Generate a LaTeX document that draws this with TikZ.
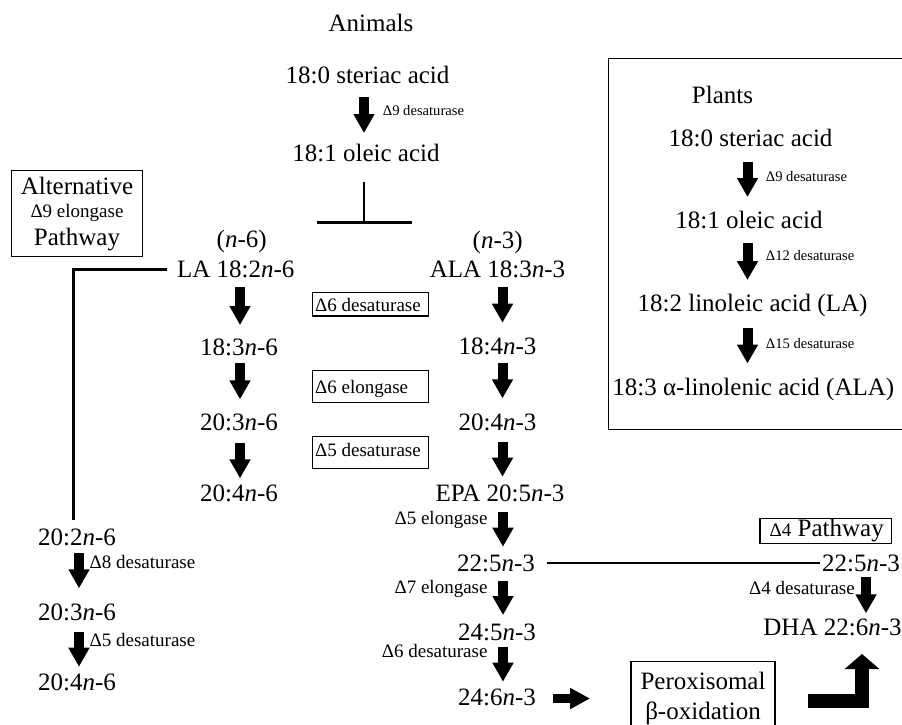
\documentclass[tikz,border=0pt]{standalone}
\usepackage{fontspec}
\setmainfont{Liberation Serif}
\usetikzlibrary{arrows.meta}
\begin{document}
\begin{tikzpicture}[x=1pt,y=-1pt,
 big/.style={font=\fontsize{25}{30}\selectfont, inner sep=0pt, anchor=base},
 mid/.style={font=\fontsize{19}{23}\selectfont, inner sep=0pt},
 sml/.style={font=\fontsize{14.6}{17}\selectfont, inner sep=0pt},
 fat/.style={line width=10pt, -{Triangle[width=20pt,length=19pt]}},
 conn/.style={line width=2.8pt, line join=miter},
 thinconn/.style={line width=2pt},
 frame/.style={draw, line width=1.2pt},
]
\useasboundingbox[fill=white] (0,0) rectangle (902,724);

% ---------- frames ----------
\draw[frame] (608.3,58.3) rectangle (902.5,429.3);
\draw[frame] (11.7,170.7) rectangle (142.3,256.7);
\draw[frame] (312.7,292.7) rectangle (428.3,316);
\draw[frame] (312.7,370.7) rectangle (428.3,402.7);
\draw[frame] (312.7,436.7) rectangle (428.3,468.3);
\draw[frame] (760,518.3) rectangle (891.7,543.3);
\draw[frame] (631,661.7) rectangle (775,730);

% ---------- Animals ----------
\node[big] (animals) at (371,31) {Animals};
\node[big] (ast) at (367.5,83) {18:0 steriac acid};
\node[big] (aole) at (366,161) {18:1 oleic acid};
\node[sml, anchor=base west] (ad9) at (382.7,115) {Δ9 desaturase};

% alternative box text
\node[big] (alt1) at (77,194) {Alternative};
\node[mid, anchor=base] (alt2) at (77,217) {Δ9 elongase};
\node[big] (alt3) at (77,245) {Pathway};

% n-6 column
\node[big] (n6) at (241.7,247.5) {(\textit{n}-6)};
\node[big] (la) at (235.8,277.5) {LA 18:2\textit{n}-6};
\node[big] (l183) at (239,355) {18:3\textit{n}-6};
\node[big] (l203) at (239,430) {20:3\textit{n}-6};
\node[big] (l204) at (239,501) {20:4\textit{n}-6};

% n-3 column
\node[big] (n3) at (497.7,248) {(\textit{n}-3)};
\node[big] (ala) at (497.5,277.5) {ALA 18:3\textit{n}-3};
\node[big] (r184) at (497.5,354.5) {18:4\textit{n}-3};
\node[big] (r204) at (497.5,430) {20:4\textit{n}-3};
\node[big] (epa) at (500,501) {EPA 20:5\textit{n}-3};
\node[big] (r225) at (496,571.5) {22:5\textit{n}-3};
\node[big] (r245) at (497,640) {24:5\textit{n}-3};
\node[big] (r246) at (497,705) {24:6\textit{n}-3};

% enzyme boxes text
\node[mid, anchor=base west] (e1) at (315,311) {Δ6 desaturase};
\node[mid, anchor=base west] (e2) at (315,393) {Δ6 elongase};
\node[mid, anchor=base west] (e3) at (315,456) {Δ5 desaturase};

% enzyme labels on n-3 column
\node[mid, anchor=base east] (e4) at (487.7,524.6) {Δ5 elongase};
\node[mid, anchor=base east] (e5) at (487.7,593.6) {Δ7 elongase};
\node[mid, anchor=base east] (e6) at (487.7,657) {Δ6 desaturase};

% alternative pathway column
\node[big] (a202) at (77,545.5) {20:2\textit{n}-6};
\node[big] (a203) at (77,620) {20:3\textit{n}-6};
\node[big] (a204) at (77,690) {20:4\textit{n}-6};
\node[mid, anchor=base west] (e7) at (89.5,568) {Δ8 desaturase};
\node[mid, anchor=base west] (e8) at (89.5,646) {Δ5 desaturase};

% delta-4 pathway
\node[big, anchor=base east] (d4p) at (884,536) {{\fontsize{19}{23}\selectfont Δ4} Pathway};
\node[big] (d225) at (861,571.5) {22:5\textit{n}-3};
\node[mid, anchor=base east] (e9) at (855,594) {Δ4 desaturase};
\node[big] (dha) at (832.5,635.5) {DHA 22:6\textit{n}-3};

% peroxisomal
\node[big] (perox) at (703,689) {Peroxisomal};
\node[big] (beta) at (703,719) {β-oxidation};

% ---------- Plants ----------
\node[big] (plants) at (722.5,103) {Plants};
\node[big] (p180) at (750.5,146.5) {18:0 steriac acid};
\node[big] (p181) at (749,228) {18:1 oleic acid};
\node[big] (p182) at (752.5,311.5) {18:2 linoleic acid (LA)};
\node[big] (p183) at (753.3,395) {18:3 α-linolenic acid (ALA)};
\node[sml, anchor=base west] (pd9) at (765.7,181.5) {Δ9 desaturase};
\node[sml, anchor=base west] (pd12) at (765.7,260) {Δ12 desaturase};
\node[sml, anchor=base west] (pd15) at (765.7,348) {Δ15 desaturase};

% ---------- arrow end points ----------
\coordinate (aa1) at (364,97);    \coordinate (ab1) at (364,133);
\coordinate (pa1) at (747.5,161.7); \coordinate (pb1) at (747.5,197);
\coordinate (pa2) at (747.5,243.3); \coordinate (pb2) at (747.5,280);
\coordinate (pa3) at (747.5,328.3); \coordinate (pb3) at (747.5,363.5);
\coordinate (la1) at (240,287.3); \coordinate (lb1) at (240,325);
\coordinate (la2) at (240,363.3); \coordinate (lb2) at (240,399.3);
\coordinate (la3) at (240,442.7); \coordinate (lb3) at (240,478.3);
\coordinate (ra1) at (502.5,286.7); \coordinate (rb1) at (502.5,322.7);
\coordinate (ra2) at (502.5,362.7); \coordinate (rb2) at (502.5,398.3);
\coordinate (ra3) at (502.5,441.7); \coordinate (rb3) at (502.5,476.7);
\coordinate (ra4) at (503,511.7); \coordinate (rb4) at (503,546.7);
\coordinate (ra5) at (503,580.7); \coordinate (rb5) at (503,615);
\coordinate (ra6) at (503,646.7); \coordinate (rb6) at (503,681.7);
\coordinate (xa1) at (79,553.3); \coordinate (xb1) at (79,588.3);
\coordinate (xa2) at (79,631.7); \coordinate (xb2) at (79,666.7);
\coordinate (da1) at (866,576.7); \coordinate (db1) at (866,613.3);
\coordinate (ha1) at (553.3,698.5); \coordinate (hb1) at (590,698.5);
\coordinate (ga1) at (808,700.5); \coordinate (gb1) at (862,654);

\foreach \s/\e in {aa1/ab1,pa1/pb1,pa2/pb2,pa3/pb3,la1/lb1,la2/lb2,la3/lb3,
  ra1/rb1,ra2/rb2,ra3/rb3,ra4/rb4,ra5/rb5,ra6/rb6,xa1/xb1,xa2/xb2,da1/db1}
  \draw[fat] (\s) -- (\e);
\draw[line width=9pt, -{Triangle[width=20pt,length=20pt]}] (ha1) -- (hb1);
\draw[line width=14pt, line join=miter, -{Triangle[width=34pt,length=15pt]}] (ga1) -| (gb1);

% ---------- connectors ----------
\coordinate (tt) at (364,181.7);
\coordinate (tm) at (364,222.5);
\coordinate (tl) at (316.7,222.5);
\coordinate (tr) at (412.3,222.5);
\draw[conn] (tt) -- (tm);
\draw[conn] (tl) -- (tr);

\coordinate (lastart) at (166.7,269.3);
\coordinate (altend) at (73.3,520);
\draw[conn] (lastart) -| (altend);

\coordinate (hl1) at (546.7,562.7);
\coordinate (hl2) at (820,562.7);
\draw[thinconn] (hl1) -- (hl2);
\end{tikzpicture}
\end{document}
